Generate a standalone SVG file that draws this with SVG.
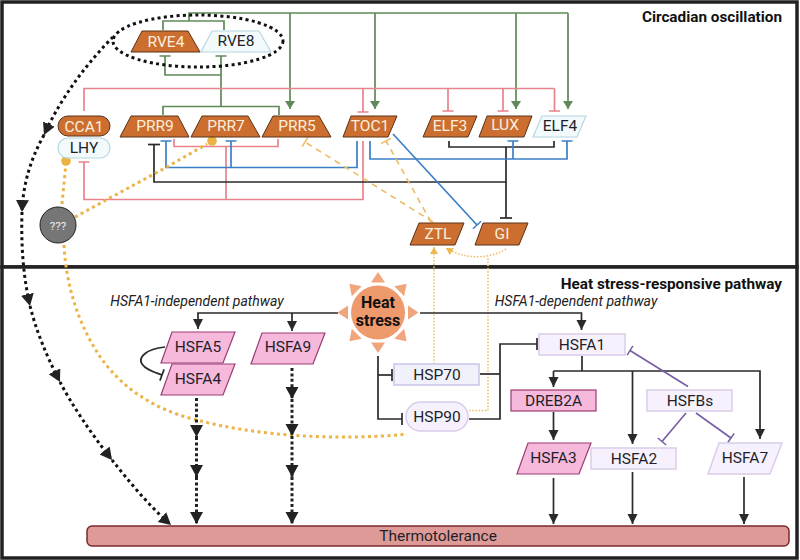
<svg xmlns="http://www.w3.org/2000/svg" width="800" height="560" viewBox="0 0 800 560">
<style>
text{font-family:Roboto,"Liberation Sans",sans-serif;text-anchor:middle;font-size:15.5px;fill:#1f1f2a}
.w{fill:#fdeedd}
.title{font-weight:700;font-size:15.3px;text-anchor:end;fill:#111}
.it{font-style:italic;font-size:14px;fill:#222}
.frame{fill:#fff;stroke:#222;stroke-width:3.5}
.or{fill:#cb6e30;stroke:#5a3216;stroke-width:1}
.bl{fill:#f3fafc;stroke:#b6d8e2;stroke-width:1.2}
.lv{fill:#f6f1fc;stroke:#d9cdea;stroke-width:1.5}
.lh{fill:#f1f1fb;stroke:#c6c6e8;stroke-width:1.5}
.pk{fill:#f6b9dc;stroke:#9c3a72;stroke-width:1.2}
.c{fill:none;stroke-width:1.7}
.g{stroke:#5f8a58}
.p{stroke:#e8828c}
.b{stroke:#3a7fc6}
.k{stroke:#2a2a2a}
.v{stroke:#7a5fa6}
.dk{fill:none;stroke:#111;stroke-width:3;stroke-dasharray:3 3.3}
.dv{fill:none;stroke:#222;stroke-width:3;stroke-dasharray:3 2.4}
.do{fill:none;stroke:#ecb345;stroke-width:3;stroke-dasharray:3 3.5}
.dt{fill:none;stroke:#eec06a;stroke-width:1.5;stroke-dasharray:1.6 1.6}
.da{fill:none;stroke:#ecbc62;stroke-width:1.6;stroke-dasharray:6 5}
.ray{fill:#f0a57d}
</style>
<defs>
<marker id="ag" markerUnits="userSpaceOnUse" markerWidth="11" markerHeight="11" refX="8" refY="5" orient="auto"><path d="M0,0L8,5L0,10z" fill="#5f8a58"/></marker>
<marker id="ak" markerUnits="userSpaceOnUse" markerWidth="12" markerHeight="12" refX="10" refY="5" orient="auto"><path d="M0,0L10,5L0,10z" fill="#2a2a2a"/></marker>
<marker id="ad" markerUnits="userSpaceOnUse" markerWidth="14" markerHeight="14" refX="12" refY="6.500" orient="auto"><path d="M0,0L12,6.500L0,13z" fill="#222"/></marker>
<marker id="ao" markerUnits="userSpaceOnUse" markerWidth="9" markerHeight="9" refX="7" refY="4" orient="auto"><path d="M0,0L7,4L0,8z" fill="#ecb84f"/></marker>
<marker id="tg" markerUnits="userSpaceOnUse" markerWidth="3" markerHeight="12" refX="1.500" refY="6" orient="auto"><path d="M1.500,0.500V11.500" stroke="#5f8a58" stroke-width="1.500"/></marker>
<marker id="tp" markerUnits="userSpaceOnUse" markerWidth="3" markerHeight="12" refX="1.500" refY="6" orient="auto"><path d="M1.500,0.500V11.500" stroke="#e8828c" stroke-width="1.500"/></marker>
<marker id="tb" markerUnits="userSpaceOnUse" markerWidth="3" markerHeight="12" refX="1.500" refY="6" orient="auto"><path d="M1.500,0.500V11.500" stroke="#3a7fc6" stroke-width="1.500"/></marker>
<marker id="tk" markerUnits="userSpaceOnUse" markerWidth="3" markerHeight="14" refX="1.500" refY="7" orient="auto"><path d="M1.500,1V13" stroke="#2a2a2a" stroke-width="1.700"/></marker>
<marker id="tv" markerUnits="userSpaceOnUse" markerWidth="3" markerHeight="12" refX="1.500" refY="6" orient="auto"><path d="M1.500,0.500V11.500" stroke="#7a5fa6" stroke-width="1.500"/></marker>
<marker id="to" markerUnits="userSpaceOnUse" markerWidth="3" markerHeight="12" refX="1.500" refY="6" orient="auto"><path d="M1.500,0.500V11.500" stroke="#ecbc62" stroke-width="1.500"/></marker>
<polygon id="ray" class="ray" points="-7,-30 7,-30 0,-40.500"/>
</defs>

<g id="panels">
<rect class="frame" x="2" y="2" width="795" height="265"/>
<rect class="frame" x="2" y="267" width="795" height="291"/>
</g>

<g id="connectors">
<path class="c g" d="M189,21V13H568"/>
<path class="c g" d="M163,30V21H224V30"/>
<path class="c g" d="M290,13V109" marker-end="url(#ag)"/>
<path class="c g" d="M375,13V109" marker-end="url(#ag)"/>
<path class="c g" d="M516,13V109" marker-end="url(#ag)"/>
<path class="c g" d="M568,13V109" marker-end="url(#ag)"/>
<path class="c g" d="M221,106V56" marker-end="url(#tg)"/>
<path class="c g" d="M221,75H165V56" marker-end="url(#tg)"/>
<path class="c g" d="M163,115V106.500H279V115"/>
<path class="c p" d="M84,111V88.500H554.500"/>
<path class="c p" d="M363,88.500V112" marker-end="url(#tp)"/>
<path class="c p" d="M448,88.500V111" marker-end="url(#tp)"/>
<path class="c p" d="M503,88.500V111" marker-end="url(#tp)"/>
<path class="c p" d="M554.500,88.500V111" marker-end="url(#tp)"/>
<path class="c p" d="M363,141V199.500H84V162" marker-end="url(#tp)"/>
<path class="c p" d="M226,199.500V146.500"/>
<path class="c p" d="M174,139V146.500H278V139"/>
<path class="c k" d="M506,147V182H154V144.500" marker-end="url(#tk)"/>
<path class="c k" d="M506,182V218" marker-end="url(#tk)"/>
<path class="c k" d="M449,141V147H554V141"/>
<path class="c b" d="M357,141V167.500H166V141" marker-end="url(#tb)"/>
<path class="c b" d="M231,167.500V141" marker-end="url(#tb)"/>
<path class="c b" d="M370,141V159H567V141" marker-end="url(#tb)"/>
<path class="c b" d="M513,159V141" marker-end="url(#tb)"/>
<path class="c b" d="M393,134L477,225" marker-end="url(#tb)"/>
<path class="da" d="M433,222L305,142" marker-end="url(#to)"/>
<path class="da" d="M431,222L386,141" marker-end="url(#to)"/>
<path class="dt" d="M434,364V247" marker-end="url(#ao)"/>
<path class="dt" d="M469,410.500H488V258"/>
<path class="dt" d="M506,249C490,259 465,260 446,248" marker-end="url(#ao)"/>
<path class="do" d="M75,217L165,168L207,144"/>
<path class="do" d="M62,204L66,163"/>
<path class="do" d="M64,245C66,285 78,322 97,352C120,388 155,410 197,420C255,436 340,441 407,434"/>
<circle cx="212" cy="141" r="4.800" fill="#ecb345"/>
<circle cx="66" cy="161" r="4.800" fill="#ecb345"/>
<path class="dk" d="M113,37C90,60 62,95 44,135" marker-end="url(#ad)"/>
<path class="dk" d="M44,135C30,160 23,185 22,212" marker-end="url(#ad)"/>
<path class="dk" d="M22,212C21,245 23,275 30,306" marker-end="url(#ad)"/>
<path class="dk" d="M30,306C36,330 46,355 60,382" marker-end="url(#ad)"/>
<path class="dk" d="M60,382C72,405 90,432 112,460" marker-end="url(#ad)"/>
<path class="dk" d="M112,460C128,480 148,505 171,525" marker-end="url(#ad)"/>
<path class="dv" d="M196.500,398V437" marker-end="url(#ad)"/>
<path class="dv" d="M196.500,437V477" marker-end="url(#ad)"/>
<path class="dv" d="M196.500,477V524" marker-end="url(#ad)"/>
<path class="dv" d="M292,368V399" marker-end="url(#ad)"/>
<path class="dv" d="M292,399V436" marker-end="url(#ad)"/>
<path class="dv" d="M292,436V477" marker-end="url(#ad)"/>
<path class="dv" d="M292,477V524" marker-end="url(#ad)"/>
<path class="c k" d="M338,313H198V329" marker-end="url(#ak)"/>
<path class="c k" d="M292,313V331" marker-end="url(#ak)"/>
<path class="c k" d="M420,313H581.500V330" marker-end="url(#ak)"/>
<path class="c k" d="M165,347C145,349 138,358 142,364C146,370 154,372 162,375" marker-end="url(#tk)"/>
<path class="c k" d="M378,356V419H402" marker-end="url(#tk)"/>
<path class="c k" d="M378,375H392" marker-end="url(#tk)"/>
<path class="c k" d="M469,419H500V344H537" marker-end="url(#tk)"/>
<path class="c k" d="M480,374H500"/>
<path class="c k" d="M582,356V371"/>
<path class="c k" d="M553.500,371H760V439" marker-end="url(#ak)"/>
<path class="c k" d="M553.500,371V387" marker-end="url(#ak)"/>
<path class="c k" d="M632.500,371V444" marker-end="url(#ak)"/>
<path class="c k" d="M553.500,412V440" marker-end="url(#ak)"/>
<path class="c k" d="M553.500,478V524" marker-end="url(#ak)"/>
<path class="c k" d="M632.500,472V524" marker-end="url(#ak)"/>
<path class="c k" d="M744,477V524" marker-end="url(#ak)"/>
<path class="c v" d="M688,386.500L630,350.500" marker-end="url(#tv)"/>
<path class="c v" d="M686,413L662,441.500" marker-end="url(#tv)"/>
<path class="c v" d="M696,413L731,438" marker-end="url(#tv)"/>
</g>

<g id="node-rve-group"><ellipse cx="198" cy="41" rx="85" ry="26" class="dk"/></g>
<g id="node-rve4"><polygon class="or" points="142,31 188,31 200,52 131,52"/><text class="w" x="166" y="47">RVE4</text></g>
<g id="node-rve8"><polygon class="bl" points="212,31 259,31 271,52 201,52"/><text x="236" y="46">RVE8</text></g>
<g id="node-cca1"><rect class="or" x="58" y="116" width="52" height="20" rx="10"/><text class="w" x="84" y="132">CCA1</text></g>
<g id="node-lhy"><rect class="bl" x="58" y="138" width="52" height="20" rx="10"/><text x="84" y="153">LHY</text></g>
<g id="node-prr9"><polygon class="or" points="131,116 178,116 189,137 120,137"/><text class="w" x="155" y="131">PRR9</text></g>
<g id="node-prr7"><polygon class="or" points="202,116 248,116 260,137 191,137"/><text class="w" x="226" y="131">PRR7</text></g>
<g id="node-prr5"><polygon class="or" points="273,116 319,116 331,137 262,137"/><text class="w" x="297" y="131">PRR5</text></g>
<g id="node-toc1"><polygon class="or" points="351,116 397,116 388,137 343,137"/><text class="w" x="370" y="131">TOC1</text></g>
<g id="node-elf3"><polygon class="or" points="432,116 477,116 468,137 423,137"/><text class="w" x="450" y="131">ELF3</text></g>
<g id="node-lux"><polygon class="or" points="487,116 532,116 524,137 479,137"/><text class="w" x="505" y="130">LUX</text></g>
<g id="node-elf4"><polygon class="bl" points="542,116 586,116 577,137 533,137"/><text x="560" y="131">ELF4</text></g>
<g id="node-ztl"><polygon class="or" points="419,223 464,223 455,245 410,245"/><text class="w" x="438" y="239">ZTL</text></g>
<g id="node-gi"><polygon class="or" points="483,223 528,223 519,245 475,245"/><text class="w" x="502" y="239">GI</text></g>
<g id="node-unknown"><circle cx="58" cy="225" r="18" fill="#767676" stroke="#222" stroke-width="1"/><text x="58" y="229.500" style="font-size:11.500px;fill:#f2f2f2">???</text></g>

<g id="node-heat-stress">
<g transform="translate(378 312.500)">
<use href="#ray"/><use href="#ray" transform="rotate(45)"/><use href="#ray" transform="rotate(90)"/><use href="#ray" transform="rotate(135)"/><use href="#ray" transform="rotate(180)"/><use href="#ray" transform="rotate(225)"/><use href="#ray" transform="rotate(270)"/><use href="#ray" transform="rotate(315)"/>
<circle r="27" fill="#ef9a6c"/>
</g>
<text x="378" y="308" style="font-weight:700;font-size:16px;fill:#111">Heat</text>
<text x="378" y="326" style="font-weight:700;font-size:16px;fill:#111">stress</text>
</g>
<g id="node-hsfa5"><polygon class="pk" points="172,332 235,332 223,363 161,363"/><text x="198" y="352">HSFA5</text></g>
<g id="node-hsfa4"><polygon class="pk" points="172,364 235,364 223,395 161,395"/><text x="198" y="384">HSFA4</text></g>
<g id="node-hsfa9"><polygon class="pk" points="262,333 325,333 313,364 251,364"/><text x="288" y="352">HSFA9</text></g>
<g id="node-hsp70"><rect class="lh" x="394" y="364" width="85" height="21"/><text x="437" y="380">HSP70</text></g>
<g id="node-hsp90"><rect class="lv" x="406" y="402" width="62" height="29" rx="14.500"/><text x="437" y="422">HSP90</text></g>
<g id="node-hsfa1"><rect class="lv" x="539" y="334" width="86" height="21"/><text x="582" y="350">HSFA1</text></g>
<g id="node-dreb2a"><rect class="pk" x="511" y="390" width="85" height="21"/><text x="553.500" y="406">DREB2A</text></g>
<g id="node-hsfbs"><rect class="lv" x="647" y="390" width="85" height="21"/><text x="690" y="406">HSFBs</text></g>
<g id="node-hsfa3"><polygon class="pk" points="528,443 591,443 579,474 517,474"/><text x="553.500" y="463">HSFA3</text></g>
<g id="node-hsfa2"><rect class="lv" x="591" y="448" width="85" height="21"/><text x="634" y="464">HSFA2</text></g>
<g id="node-hsfa7"><polygon class="lv" points="719,443 782,443 770,474 708,474"/><text x="745" y="463">HSFA7</text></g>
<g id="node-thermotolerance"><rect x="87" y="526" width="702" height="20" rx="5" fill="#dd9a97" stroke="#7a2a2e" stroke-width="1.500"/><text x="438" y="541">Thermotolerance</text></g>

<g id="labels">
<text class="title" x="782" y="22">Circadian oscillation</text>
<text class="title" x="782" y="289">Heat stress-responsive pathway</text>
<text class="it" x="197" y="306">HSFA1-independent pathway</text>
<text class="it" x="576" y="306">HSFA1-dependent pathway</text>
</g>
</svg>
